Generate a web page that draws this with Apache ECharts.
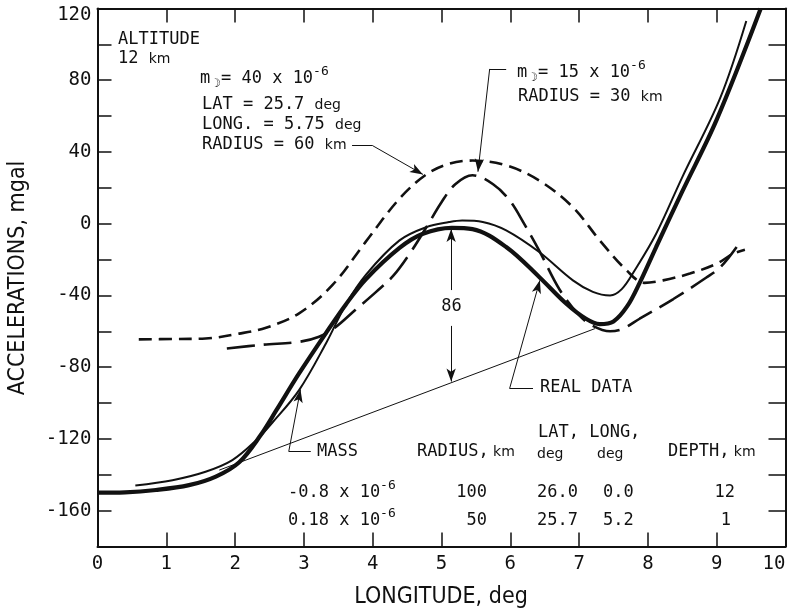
<!DOCTYPE html>
<html><head><meta charset="utf-8">
<script src="https://cdn.jsdelivr.net/npm/echarts@6.0.0/dist/echarts.min.js"></script>
<style>html,body{margin:0;padding:0;background:#fff}#c{width:789px;height:612px}</style>
</head><body><div id="c"></div>
<script>
// ---------- data ----------
const xTicks = [0,1,2,3,4,5,6,7,8,9,10];
const yTickLabels = [-160,-120,-80,-40,0,40,80,120];

// Real data (thick solid)
const realLon = [0,0.4,0.85,1.33,1.72,2.06,2.37,2.6,2.93,3.32,3.61,3.9,4.39,4.73,5.15,5.45,5.94,6.42,6.81,7.1,7.3,7.5,7.7,7.88,8.12,8.5,9.0,9.64];
const realAcc = [-150,-149.8,-148.5,-145.8,-141,-133,-118,-104,-83.5,-61,-45,-31,-13.5,-5.6,-2.3,-3,-13,-29.7,-44.5,-53,-56,-54.5,-46,-33,-13,18,58,120];

// Two-mass model (thin solid)
const modelLon = [0.55,1.09,1.57,1.96,2.3,2.54,2.93,3.32,3.61,3.9,4.39,4.78,5.11,5.3,5.6,5.94,6.42,6.91,7.2,7.45,7.62,7.8,8.12,8.5,9.05,9.43];
const modelAcc = [-146,-143,-138.3,-131.8,-121,-111,-92.8,-66.8,-45,-28.5,-9.3,-1.9,0.9,1.8,1,-3.7,-15.8,-31.6,-38,-40,-36.5,-26.5,-5.6,26,70,113];

// m = 40e-6, radius 60 km (short dashes)
const m40Lon = [0.6,1.1,1.57,2.06,2.45,2.93,3.42,3.9,4.39,4.78,5.11,5.45,5.94,6.42,6.91,7.3,7.69,7.95,8.22,8.61,9.0,9.24,9.41];
const m40Acc = [-64.5,-64.3,-64,-61.3,-58,-50,-34,-10,14,27.5,33.4,35.2,32.5,24.1,9.2,-9.3,-26,-33,-31.6,-27.8,-22.3,-16.7,-14.5];

// m = 15e-6, radius 30 km (long dashes)
const m15Lon = [1.88,2.4,2.93,3.22,3.45,3.75,4.05,4.3,4.55,4.78,5.0,5.2,5.45,5.75,5.99,6.2,6.42,6.72,7.0,7.2,7.45,7.64,7.88,8.37,8.85,9.06,9.29];
const m15Acc = [-69.6,-67.5,-65.9,-63,-58,-48,-38,-29,-16,-2,12,22,27,22,13,0,-15,-37,-51,-57,-60,-58.5,-53,-42,-30,-24,-13];

// Regional (straight) baseline
const baseLon = [1.77,7.23];
const baseAcc = [-137.4,-58.5];

// ---------- styling ----------
const INK = '#111';
const MONO = "'DejaVu Sans Mono', monospace";
const SANS = "'DejaVu Sans', sans-serif";
const COND = "'DejaVu Sans Condensed', 'Liberation Sans Narrow', 'DejaVu Sans', sans-serif";
const zip = (xs, ys) => xs.map((x, i) => [x, ys[i]]);

const RICH = {
  n: {fontFamily: MONO, fontSize: 17, fill: INK},
  u: {fontFamily: SANS, fontSize: 14, fill: INK},
  p: {fontFamily: MONO, fontSize: 13, fill: INK, padding: [0,0,14,0]},
  b: {fontFamily: SANS, fontSize: 12, fill: INK, padding: [10,0,0,0]}
};
function txt(x, y, text, align) {
  return {type: 'text', x: x, y: y, silent: true,
    style: {text: text, rich: RICH, fill: INK, align: align || 'left', verticalAlign: 'middle', fontFamily: MONO, fontSize: 17}};
}

// annotation leader lines (data coordinates)
function seg(a, b, arrow) {
  return [{coord: a, symbol: 'none'}, {coord: b, symbol: arrow ? 'arrow' : 'none', symbolSize: [7, 13]}];
}
const annot = [
  seg([3.7,43.5],[4.0,43.5]), seg([4.0,43.5],[4.73,27.5],true),
  seg([5.94,86.3],[5.7,86.3]), seg([5.7,86.3],[5.53,29],true),
  seg([5.14,-37],[5.14,-3],true), seg([5.14,-57],[5.14,-88],true),
  seg([6.33,-91.9],[5.99,-91.9]), seg([5.99,-91.9],[6.43,-31.6],true),
  seg([3.1,-127],[2.78,-127]), seg([2.78,-127],[2.95,-92.5],true)
];

const chart = echarts.init(document.getElementById('c'), null, {renderer: 'canvas'});
const axisLine = {show: true, onZero: false, lineStyle: {color: INK, width: 2}};
const tick = {show: true, inside: true, length: 14, lineStyle: {color: INK, width: 1.5}};
const tickR = {show: true, inside: true, length: 17, lineStyle: {color: INK, width: 1.5}};

const option = {
  backgroundColor: '#fff',
  animation: false,
  grid: {left: 97.5, top: 8.5, width: 688, height: 538, containLabel: false},
  xAxis: [
    {type: 'value', min: xTicks[0], max: xTicks[xTicks.length-1], interval: 1, position: 'bottom',
     axisLine: axisLine, axisTick: tick, splitLine: {show: false},
     axisLabel: {margin: 8, fontFamily: MONO, fontSize: 19, color: INK, alignMaxLabel: 'right'}},
    {type: 'value', min: xTicks[0], max: xTicks[xTicks.length-1], interval: 1, position: 'top',
     axisLine: axisLine, axisTick: tick, splitLine: {show: false}, axisLabel: {show: false}}
  ],
  yAxis: [
    {type: 'value', min: -180, max: 120, interval: 20, position: 'left',
     axisLine: axisLine, axisTick: tick, splitLine: {show: false},
     axisLabel: {margin: 6, color: INK, fontFamily: MONO, fontSize: 19,
       formatter: v => yTickLabels.indexOf(v) < 0 ? '' : (v === 120 ? '{t|120}' : '{d|' + v + '}'),
       rich: {d: {fontFamily: MONO, fontSize: 19, color: INK},
              t: {fontFamily: MONO, fontSize: 19, color: INK, padding: [14,0,0,0]}}}},
    {type: 'value', min: -180, max: 120, interval: 20, position: 'right',
     axisLine: axisLine, axisTick: tickR, splitLine: {show: false}, axisLabel: {show: false}}
  ],
  series: [
    {name: 'baseline', type: 'line', data: zip(baseLon, baseAcc), symbol: 'none', smooth: false,
     lineStyle: {color: INK, width: 1}, z: 2,
     markLine: {silent: true, animation: false, symbol: ['none','none'], label: {show: false},
       lineStyle: {color: INK, width: 1, type: 'solid'}, emphasis: {disabled: true}, data: annot}},
    {name: 'm40', type: 'line', data: zip(m40Lon, m40Acc), symbol: 'none', smooth: 0.35,
     lineStyle: {color: INK, width: 2.6, type: [13, 7]}, z: 3},
    {name: 'm15', type: 'line', data: zip(m15Lon, m15Acc), symbol: 'none', smooth: 0.35,
     lineStyle: {color: INK, width: 2.6, type: [28, 9]}, z: 3},
    {name: 'model', type: 'line', data: zip(modelLon, modelAcc), symbol: 'none', smooth: 0.35,
     lineStyle: {color: INK, width: 2}, z: 4},
    {name: 'real', type: 'line', data: zip(realLon, realAcc), symbol: 'none', smooth: 0.35,
     lineStyle: {color: INK, width: 4.2}, z: 5}
  ],
  graphic: [
    {type: 'text', x: 18, y: 278, rotation: Math.PI/2, silent: true,
     style: {text: 'ACCELERATIONS, mgal', fontFamily: COND, fontSize: 23, fill: INK, align: 'center', verticalAlign: 'middle'}},
    {type: 'text', x: 441, y: 597, silent: true,
     style: {text: 'LONGITUDE, deg', fontFamily: COND, fontSize: 23, fill: INK, align: 'center', verticalAlign: 'middle'}},
    txt(118, 40, '{n|ALTITUDE}'),
    txt(118, 59, '{n|12 }{u|km}'),
    txt(200, 79, '{n|m}{b|☽}{n|= 40 x 10}{p|-6}'),
    txt(202, 105, '{n|LAT = 25.7 }{u|deg}'),
    txt(202, 125, '{n|LONG. = 5.75 }{u|deg}'),
    txt(202, 145, '{n|RADIUS = 60 }{u|km}'),
    txt(517, 73, '{n|m}{b|☽}{n|= 15 x 10}{p|-6}'),
    txt(518, 97, '{n|RADIUS = 30 }{u|km}'),
    txt(451.5, 307, '{n|86}', 'center'),
    txt(540, 388, '{n|REAL DATA}'),
    txt(317, 452, '{n|MASS}'),
    txt(417, 452, '{n|RADIUS,}{u| km}'),
    txt(538, 433, '{n|LAT, LONG,}'),
    txt(537, 454, '{u|deg}'),
    txt(597, 454, '{u|deg}'),
    txt(668, 452, '{n|DEPTH,}{u| km}'),
    txt(288, 493, '{n|-0.8 x 10}{p|-6}'),
    txt(288, 521, '{n|0.18 x 10}{p|-6}'),
    txt(487, 493, '{n|100}', 'right'),
    txt(487, 521, '{n|50}', 'right'),
    txt(537, 493, '{n|26.0}'),
    txt(537, 521, '{n|25.7}'),
    txt(603, 493, '{n|0.0}'),
    txt(603, 521, '{n|5.2}'),
    txt(735, 493, '{n|12}', 'right'),
    txt(731, 521, '{n|1}', 'right')
  ]
};
chart.setOption(option);
</script></body></html>
